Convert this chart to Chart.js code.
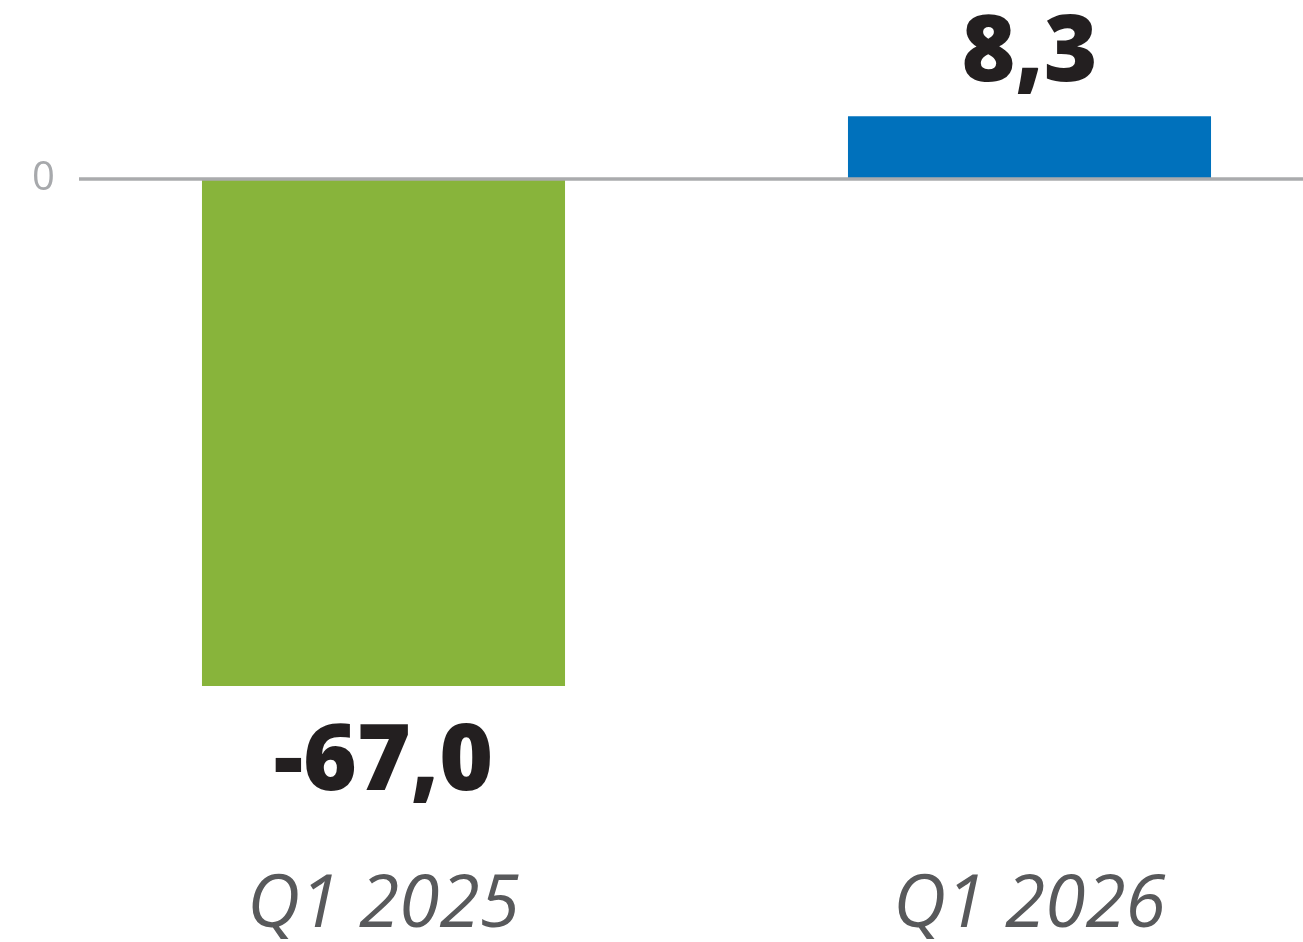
<!DOCTYPE html>
<html>
<head>
<meta charset="utf-8">
<script src="https://cdn.jsdelivr.net/npm/chart.js@4"></script>
<style>
  html, body { margin: 0; padding: 0; background: #fff; overflow: hidden; }
  #wrap { width: 1303px; height: 942px; }
</style>
</head>
<body>
<div id="wrap"><canvas id="myChart" width="1303" height="942"></canvas></div>
<script>
// dane z wykresu
var kwartaly = ['Q1 2025', 'Q1 2026'];
var wartosci = [-67.0, 8.3];
var kolory = ['#88b43b', '#0071bc'];
var yTicks = [0];

// linia zera na calej szerokosci
var liniaZera = {
    id: 'liniaZera',
    afterDatasetsDraw: function(chart) {
        var ctx = chart.ctx;
        var y = chart.scales.y.getPixelForValue(0);
        ctx.save();
        ctx.strokeStyle = '#aaabad';
        ctx.lineWidth = 3.5;
        ctx.beginPath();
        ctx.moveTo(79, y);
        ctx.lineTo(chart.width, y);
        ctx.stroke();
        ctx.restore();
    }
};

// etykiety wartosci nad / pod slupkami
var etykiety = {
    id: 'etykiety',
    afterDatasetsDraw: function(chart) {
        var ctx = chart.ctx;
        var meta = chart.getDatasetMeta(0);
        ctx.save();
        ctx.fillStyle = '#231f20';
        ctx.font = '800 92px "Open Sans"';
        ctx.textAlign = 'center';
        ctx.textBaseline = 'alphabetic';
        meta.data.forEach(function(bar, i) {
            var v = wartosci[i];
            var txt = v.toFixed(1).replace('.', ',');
            var y = v >= 0 ? bar.y - 35 : bar.y + 104;
            ctx.fillText(txt, bar.x, y);
        });
        ctx.restore();
    }
};

var ctx = document.getElementById('myChart').getContext('2d');
var chart = new Chart(ctx, {
    type: 'bar',
    data: {
        labels: kwartaly,
        datasets: [{
            data: wartosci,
            backgroundColor: kolory,
            borderWidth: 0,
            barPercentage: 0.562,
            categoryPercentage: 1,
            clip: false
        }]
    },
    options: {
        responsive: false,
        animation: false,
        layout: { padding: { left: 32, right: 273.5, top: 27.66, bottom: 0 } },
        plugins: { legend: { display: false }, tooltip: { enabled: false } },
        scales: {
            x: {
                offset: false,
                grid: { display: false, drawTicks: false },
                border: { display: false },
                ticks: {
                    color: '#58595b',
                    font: { family: 'Open Sans', size: 73, style: 'italic' },
                    padding: 78
                },
                afterFit: function(s) { s.height = 157.6; }
            },
            y: {
                min: -80,
                max: 20,
                grid: { display: false, drawTicks: false },
                border: { display: false },
                afterBuildTicks: function(s) {
                    s.ticks = yTicks.map(function(v) { return { value: v }; });
                },
                ticks: {
                    color: '#a7a9ac',
                    font: { family: 'Open Sans', size: 40 },
                    crossAlign: 'far'
                },
                afterFit: function(s) { s.width = 351.5; }
            }
        }
    },
    plugins: [liniaZera, etykiety]
});
</script>
</body>
</html>
